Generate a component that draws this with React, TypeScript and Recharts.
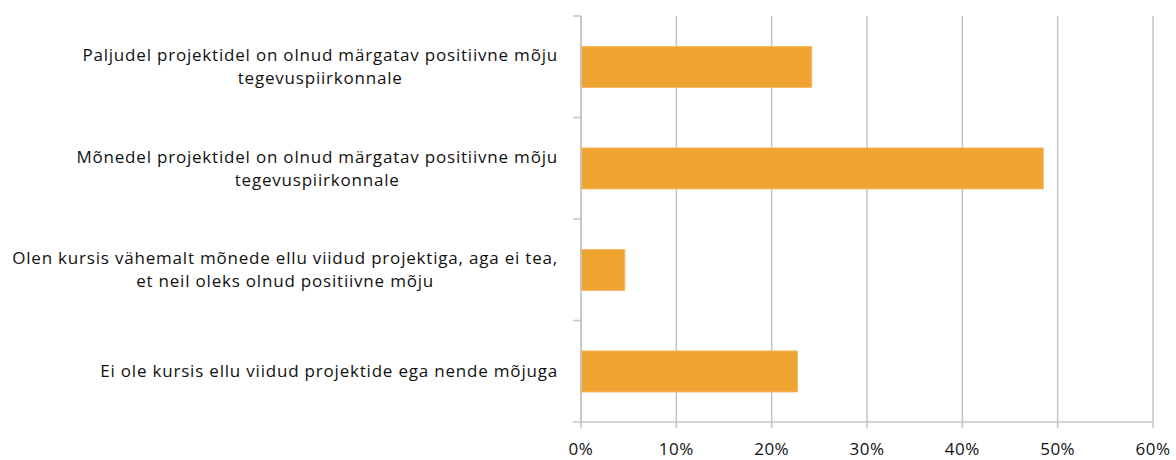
import React from 'react'
import { BarChart, Bar, XAxis, YAxis, CartesianGrid } from 'recharts'

const categories = [
  ['Paljudel projektidel on olnud märgatav positiivne mõju', 'tegevuspiirkonnale'],
  ['Mõnedel projektidel on olnud märgatav positiivne mõju', 'tegevuspiirkonnale'],
  ['Olen kursis vähemalt mõnede ellu viidud projektiga, aga ei tea,', 'et neil oleks olnud positiivne mõju'],
  ['Ei ole kursis ellu viidud projektide ega nende mõjuga'],
]
const shares = [24.2, 48.5, 4.6, 22.7]
const xTicks = [0, 10, 20, 30, 40, 50, 60]

const W = 1176
const H = 460
const TOP = 16
const AXIS_X = 581
const X_AXIS_H = 38
const FONT_SIZE = 17
const SPACING = 0.8
const GRID = '#c4c4c4'

const data = categories.map((lines, i) => ({ name: lines.join('\n'), value: shares[i] }))
const band = (H - TOP - X_AXIS_H) / categories.length

let ctx: CanvasRenderingContext2D | null = null
const measure = (s: string) => {
  if (!ctx) ctx = document.createElement('canvas').getContext('2d')
  if (!ctx) return s.length * 8.7
  ctx.font = `${FONT_SIZE}px "Open Sans"`
  return ctx.measureText(s).width + s.length * SPACING
}

const CategoryTick = (props: any) => {
  const { y, payload, index } = props
  const lines: string[] = String(payload.value).split('\n')
  const blockW = Math.max(...lines.map(measure))
  const cx = AXIS_X - 23 - blockW / 2
  const lh = 23
  const y0 = y - ((lines.length - 1) * lh) / 2
  return (
    <g>
      <line x1={AXIS_X - 8} x2={AXIS_X} y1={y - band / 2} y2={y - band / 2} stroke={GRID} strokeWidth={1.5} />
      {index === categories.length - 1 && (
        <line x1={AXIS_X - 8} x2={AXIS_X} y1={y + band / 2} y2={y + band / 2} stroke={GRID} strokeWidth={1.5} />
      )}
      <text
        textAnchor="middle"
        fontFamily='"Open Sans"'
        fontSize={FONT_SIZE}
        letterSpacing={SPACING}
        fill="#111"
      >
        {lines.map((l, i) => (
          <tspan key={i} x={cx} y={y0 + i * lh} dy="0.35em">
            {l}
          </tspan>
        ))}
      </text>
    </g>
  )
}

export default function App() {
  return (
    <div style={{ position: 'absolute', left: 0, top: 0, width: W, height: H, background: '#fff' }}>
      <BarChart
        width={W}
        height={H}
        data={data}
        layout="vertical"
        margin={{ top: TOP, right: 23, bottom: 0, left: 0 }}
        barCategoryGap="30%"
      >
        <CartesianGrid horizontal={false} stroke={GRID} strokeWidth={1.5} />
        <XAxis
          type="number"
          domain={[0, 60]}
          ticks={xTicks}
          tickFormatter={(v) => `${v}%`}
          height={X_AXIS_H}
          stroke={GRID}
          strokeWidth={1.5}
          tickSize={6}
          tickMargin={15}
          tick={{ fill: '#111', fontSize: 17, fontFamily: '"Open Sans"', letterSpacing: 0.5 }}
          interval={0}
        />
        <YAxis
          type="category"
          dataKey="name"
          width={AXIS_X}
          stroke={GRID}
          strokeWidth={1.5}
          tickLine={false}
          tick={<CategoryTick />}
          interval={0}
        />
        <Bar dataKey="value" fill="#EFA331" stroke="#F4B866" strokeWidth={1} isAnimationActive={false} />
      </BarChart>
    </div>
  )
}
